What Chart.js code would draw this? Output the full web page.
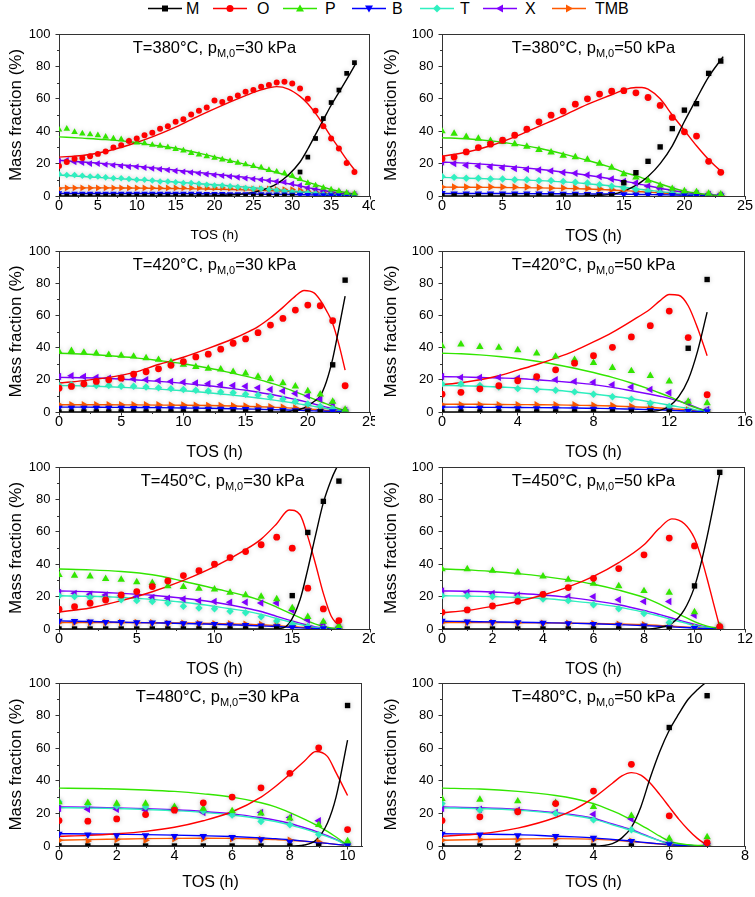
<!DOCTYPE html>
<html>
<head>
<meta charset="utf-8">
<script src="https://cdn.jsdelivr.net/npm/chart.js@4.4.0/dist/chart.umd.min.js"></script>
<style>
html, body { margin: 0; padding: 0; background: #fff; width: 755px; height: 897px; overflow: hidden; }
canvas { position: absolute; }
#legend { position: absolute; left: 0; top: 0; width: 755px; height: 18px; font: 16px "Liberation Sans", Arial, sans-serif; color: #000; }
#legend svg, #legend span { position: absolute; top: 0; }
</style>
</head>
<body>
<div id="legend"></div>
<script>
// ---- data ----
var species = ['M', 'O', 'P', 'B', 'T', 'X', 'TMB'];
var temps = ['380', '380', '420', '420', '450', '450', '480', '480'];
var pressures = ['30', '50', '30', '50', '30', '50', '30', '50'];
var xMax = [40, 25, 25, 16, 20, 12, 10.5, 8];
var xStep = [5, 5, 5, 4, 5, 2, 2, 2];
var yTickStep = 20;

// measured points, time on stream (h)
var tos = [
  [0,1,2,3,4,5,6,7,8,9,10,11,12,13,14,15,16,17,18,19,20,21,22,23,24,25,26,27,28,29,30,31,32,33,34,35,36,37,38],
  [0,1,2,3,4,5,6,7,8,9,10,11,12,13,14,15,16,17,18,19,20,21,22,23],
  [0,1,2,3,4,5,6,7,8,9,10,11,12,13,14,15,16,17,18,19,20,21,22,23],
  [0,1,2,3,4,5,6,7,8,9,10,11,12,13,14],
  [0,1,2,3,4,5,6,7,8,9,10,11,12,13,14,15,16,17,18],
  [0,1,2,3,4,5,6,7,8,9,10,11],
  [0,1,2,3,4,5,6,7,8,9,10],
  [0,1,2,3,4,5,6,7]
];
var obsM = [
  [0,0,0,0,0,0,0,0,0,0,0,0,0,0,0,0,0,0,0,0,0,0,0,0,0,0,0,0,0,0,0,14.8,24,35.5,47.8,57.7,65.4,75.7,82.3],
  [0,0,0,0,0,0,0,0,0,0,0,0,0,0,0,8.2,14.4,21.4,30.3,41.6,53,57,75.7,83.3],
  [0,0,0,0,0,0,0,0,0,0,0,0,0,0,0,0,0,0,0,0,0,0,29.3,81.9],
  [0,0,0,0,0,0,0,0,0,0,0,0,0,39.6,82.3],
  [0,0,0,0,0,0,0,0,0,0,0,0,0,0,0,20.6,59.6,78.8,91.3],
  [0,0,0,0,0,0,0,0,0,0,26.6,96.7],
  [0,0,0,0,0,0,0,0,0,0,86.2],
  [0,0,0,0,0,0,72.7,92.2]
];
var obsO = [
  [18.5,21,23,23.5,24.5,26,27.5,30,31.3,34,35.5,37.5,39,41.5,43,45.8,47.4,50.3,52.6,54.6,59,58,60,62,64.3,65.4,67.4,68.5,70,70.5,69.5,66.4,60,52.6,43,35.5,29.3,20.4,14.8],
  [23,24,27.2,29.9,32,34.4,37.5,41.2,45.8,49.9,52.4,56.7,60,62.9,64.7,65,63.7,60.8,55.9,48.5,39.6,37,21.4,14.6],
  [14.8,15.9,17.5,19,20,21,23.5,25,26.8,29,31.3,34.2,35.9,39,42.7,45.4,49.3,54,58.1,63.3,66.4,66,56.7,16.3],
  [11.1,12.2,14.4,16.3,19.4,22,26.2,30.3,35,40.2,46.6,53.6,62.7,46.2,10.7],
  [12.2,13.8,15.9,17.9,21,23.1,26.2,29.7,33,36,40,44.1,47.8,52,56.7,49.9,25.2,12.4,5.2],
  [10.3,11.8,14.2,17.1,21.4,25.6,31.3,37.3,45.8,56.1,51.3,1.4],
  [15.6,15.2,16.6,19.3,22,26.5,30,35.7,44.6,60.2,10.1],
  [15.6,17.9,21,26,33.7,50.1,18.5,2]
];
var obsP = [
  [41,41.5,39.5,38.5,38,37.5,36.5,35.5,35,34,33,32.5,31.5,31,30,29,28,26.5,25.5,24.5,23.5,22.5,21.5,20.5,19.5,18.5,17.5,16,15,14,12.5,10.5,8,6.5,5,4,3,2,1.5],
  [40,38.5,36.5,35.5,34,33.5,32,30.5,28.5,27,25,24,22.5,20,17.5,13.5,11.5,9.5,6.5,4.5,3,2.5,1.5,1],
  [37.5,38,37,36.5,35.5,35,34.5,33.5,32.5,31,29.5,28,27,26.5,25,24,22,20.5,18,16,13,11,6.5,1.5],
  [41,42,40.5,40,38.5,36.5,34.5,32.5,30.5,27.5,25.5,22.5,19,6.5,5.5],
  [33.5,33,32.5,31,30.5,29,28.5,26.5,26,25,24.5,22.5,21,20,18.5,13,7.5,4.5,2],
  [37,37,36,35,32.5,30.5,28,26.5,23.5,22.5,10.5,2],
  [27,26.5,26,26,24,23,21.5,20,17,13,3],
  [29,28.5,27.5,26.5,24,18.5,4.5,5.5]
];
var obsB = [
  [1.8,1.5,1.5,1.5,1.5,1.5,1.5,1.5,1.5,1.5,1.5,1.5,1.5,1.5,1.5,1.4,1.4,1.4,1.4,1.3,1.3,1.3,1.2,1.2,1.2,1.1,1.1,1,1,1,0.9,0.8,0.7,0.6,0.5,0.5,0.4,0.3,0.3],
  [1.8,1.5,1.5,1.5,1.5,1.5,1.5,1.5,1.4,1.4,1.3,1.3,1.2,1.2,1.1,1,0.9,0.8,0.6,0.5,0.4,0.3,0.2,0.2],
  [2.5,2.5,2.5,2.5,2.5,2.5,2.4,2.4,2.3,2.3,2.2,2.1,2,1.9,1.8,1.7,1.5,1.4,1.2,1,0.8,0.6,0.4,0.2],
  [2.5,2.5,2.5,2.5,2.3,2.3,2.2,2.1,2,1.8,1.5,1.2,0.9,0.5,0.3],
  [5,4.8,4.5,4.3,4.2,4,3.9,3.7,3.5,3.3,3,2.7,2.4,2,1.6,1,0.5,0.3,0.2],
  [5,4.5,4.2,4,3.7,3.5,3,2.5,2,1,0.5,0.2],
  [7.5,7,6.5,6.5,6,6,5.5,4,2.5,1,0.3],
  [7.5,7,6.5,6,5,3,1,0.3]
];
var obsT = [
  [13.5,13,13,12.5,12,12,11.5,11,11,10.5,10,10,9.5,9,9,8.5,8,8,7.5,7,6.5,6.5,6,5.5,5,4.5,4.5,4,3.5,3,2.5,2,2,1.5,1,1,0.5,0.5,0.5],
  [12,11.5,11,11,10.5,10.5,10,10,9.5,9.5,9,8.5,8,7,6,5,4,3,2,1.5,1,0.5,0.3,0.2],
  [16.5,17,17,16.5,16.5,16,16,15.5,15,14.5,14,13.5,13,12.5,12,11,10.5,9.5,8,6.5,5,3.5,2,0.5],
  [17.5,17.5,16.5,15.5,14.5,14,13.5,12.5,11,9.5,8,5.5,3.5,1,0.5],
  [20.5,20,19.5,18.5,18,17.5,17,16,14,13,12.5,11,10,7.5,5,3,1.5,0.5,0.2],
  [20.5,20.5,20,19.5,18.5,17.5,15,12.5,9.5,4,1,0.3],
  [27,25.5,24.5,24,23.5,21.5,19,15,13,7,0.5],
  [26,22,21,20,16,10,1.5,0.5]
];
var obsX = [
  [21.5,22,21,20.5,20,20,19.5,19,18.5,18,18,17.5,17,16.5,16,15.5,15,14.5,14,13.5,13,12.5,12,11.5,11,10.5,10,9.5,9,8.5,7.5,6.5,5,4,3,2.5,2,1.5,1],
  [21,20,19,18.5,18,17.5,17,16.5,16,15.5,14.5,14,13,12,10.5,9,8,6,4.5,3.5,2,1.5,1,0.5],
  [22,22.5,22,21.5,21,21,20.5,20,19.5,19,18.5,18,17.5,17,16.5,16,15,14,13,11.5,10,8,5.5,1],
  [22,21.5,21.5,21.5,21,21,20,19,18.5,17,15.5,14,12,6,1.5],
  [22.5,22,21.5,21,20.5,20,19.5,19,18.5,17.5,17,16.5,16.5,16,16,11.5,5.5,3,1],
  [23.5,22.5,22,21,21.5,20,20,18,17,17,8.5,1],
  [23,22.5,22.5,22,22,20.5,20,20.5,17.5,15.5,1],
  [23,22.5,22,20.5,19.5,16.5,2,1]
];
var obsTMB = [
  [4.5,5,5,5,5,5,5,5,5,5,5,5,5,5,5,5,5,5,5,5,5,5,4.8,4.8,4.5,4.5,4.5,4.5,4.2,4,4,3.5,3,2.5,2,1.5,1.2,1,0.8],
  [5.5,5.5,5.5,5.5,5.5,5.5,5.5,5.5,5.2,5,5,5,4.8,4.5,4,3.5,3,2.5,2,1.5,1,0.8,0.5,0.3],
  [4.5,4.5,4.5,4.5,4.5,4.5,4.5,4.5,4.5,4.4,4.3,4.2,4.1,4,3.9,3.7,3.5,3.2,3,2.5,2,1.5,1,0.5],
  [4.5,4.5,4.5,4.5,4.5,4.5,4.5,4.5,4.2,4,3.5,3,2.2,1.2,0.5],
  [4,4,4,4,4,4,3.8,3.6,3.5,3.4,3.3,3.2,3,2.8,2.5,2,1,0.5,0.3],
  [4,4,4,3.8,3.6,3.5,3.3,3,2.7,2,1,0.2],
  [3.5,3,4,3.5,4.5,4.5,4.5,4,3.5,2.5,0.5],
  [3.5,4,4,4.5,4,3,1,0.3]
];

// model curves, read at these times (h)
var fitTos = [
  [0,3,6,9,12,15,18,21,24,26,28,29.5,31,32,33,34,35,36,37,38.2],
  [0,2,4,6,8,10,12,14,15,16,16.5,17,18,19,20,21,22,23,23.2],
  [0,2,4,6,8,10,12,14,15,16,17,18,19,19.7,20.5,21,21.5,22,22.5,23],
  [0,1,2,3,4,5,6,7,8,9,10,11,11.5,12,12.5,13,13.5,14],
  [0,2,4,6,8,10,12,13,14,14.8,15.5,16,16.5,17,17.5,17.8,18],
  [0,1,2,3,4,5,6,7,8,8.6,9.1,9.6,10,10.25,10.5,10.75,11],
  [0,1,2,3,4,5,6,7,7.5,8,8.5,8.9,9.3,9.6,10],
  [0,1,2,3,3.5,4,4.5,4.75,5,5.25,5.5,5.75,6,6.25,6.5,6.75,7]
];
var fitM = [
  [0,0,0,0,0,0,0,0.4,1.5,3.5,7.5,13,21,29,38,47,56,64,72,82],
  [0,0,0,0,0,0,0.2,1,3,6.5,9,12,20,31,46,60,73.5,84,86],
  [0,0,0,0,0,0,0,0,0,0,0,0,1,2.5,6.5,10,19,33,52,72],
  [0,0,0,0,0,0,0,0,0,0,0,0.3,1,3.5,9.5,20,38,62],
  [0,0,0,0,0,0,0,0,0.2,3.5,18,37,58,78,92,98.5,102],
  [0,0,0,0,0,0,0,0,0,0.8,3.5,12,26,40,57,76,96],
  [0,0,0,0,0,0,0,0,0,0,0.6,3.5,14,30,65],
  [0,0,0,0,0,0,1.5,5,11.5,24,42,58,71,81,90,96,101]
];
var fitO = [
  [24,25,27.5,31.5,36.5,42.5,49.5,56,62,65.5,67.5,66,61.5,57,51,44,36.5,29.5,22.5,15],
  [24.5,27,31,36.5,43,49.5,56.5,62.5,65.5,67,67,66,60,50,40.5,31,22.5,15.5,14.5],
  [18,19.5,21.5,24.5,29.5,34,39.5,45.5,49,53,58.5,65,72,75.5,74,69.5,63,55,42,26],
  [17,18.2,20,22.5,26,29.5,33.5,38,43.5,49.5,56.5,64,69,73,72.5,66,52,35],
  [10.5,13,17.5,23,30,38.5,49,55.5,65,73.5,70.5,57,40,22,8,4,2.5],
  [10,11.5,14,17,21,26,32.5,41,52,62,68,65,56,45,31,16,1],
  [6,6.5,7.5,9,11.5,15.5,21,30,36.5,44,52,58,55,45,31],
  [6,7.5,11,17.5,22.5,29.5,38.5,43,45,43.5,38.5,31.5,24,16.5,10,4.5,0.5]
];
var fitP = [
  [36.5,35.7,34.8,33.5,31.5,29.5,26.5,23,19.5,17,14.5,12.5,10,8.5,7,5.5,4,3,2,1],
  [36,35.3,34,32,29.5,26,22,17.5,14.5,12.5,11.2,10,7.5,5,3,1.7,0.8,0.3,0.3],
  [36.5,36,35,33.8,32,30,27.3,24,22.3,20.3,18,15.5,12.5,10.5,8,6.5,5,3.5,2,0.8],
  [36.5,36.2,35.5,34.5,33.2,31.5,29.5,27.2,24.5,21.5,18,14,11.8,9.5,7,4.5,2.3,0.5],
  [37,36.5,35.5,33.5,29.5,25,20.5,17.5,13.5,10,7,4.8,3,1.6,0.7,0.4,0.3],
  [37,36.5,35.5,34.2,32.5,30.3,27.6,24,19.5,15.5,11.5,7.5,4.5,3,1.8,0.9,0.3],
  [35.5,35.3,35,34.4,33.5,32,30,26.5,24,20.5,16.5,13,9,5.5,0.5],
  [35.5,35,33.5,31,29,26,21.5,19,16,12.8,9.5,6,3,1.5,0.8,0.4,0.3]
];
var fitB = [
  [1.5,1.5,1.5,1.5,1.5,1.5,1.4,1.3,1.2,1.1,1,0.9,0.8,0.7,0.6,0.5,0.4,0.35,0.3,0.2],
  [1.5,1.5,1.5,1.5,1.4,1.4,1.3,1.2,1.1,1,0.9,0.85,0.8,0.65,0.5,0.4,0.3,0.2,0.1],
  [3,3,2.9,2.8,2.7,2.5,2.3,2,1.9,1.7,1.5,1.3,1.1,0.9,0.7,0.6,0.5,0.4,0.3,0.2],
  [3,3,2.9,2.9,2.8,2.7,2.6,2.5,2.3,2.1,1.8,1.5,1.3,1.1,0.8,0.6,0.4,0.2],
  [5,4.6,4.2,3.8,3.4,2.9,2.3,1.9,1.5,1.1,0.7,0.5,0.3,0.2,0.1,0.1,0.1],
  [4.8,4.6,4.4,4.2,3.9,3.6,3.2,2.7,2.1,1.7,1.3,0.9,0.6,0.4,0.3,0.2,0.1],
  [7.5,7.4,7.2,7,6.7,6.3,5.8,5,4.5,3.8,3,2.3,1.6,1,0.3],
  [7.5,7.3,7,6,5.6,5,4,3.5,3,2.4,1.8,1.3,0.8,0.5,0.3,0.2,0.1]
];
var fitT = [
  [13,12,11.2,10.3,9.5,8.6,7.6,6.6,5.5,4.7,3.9,3.3,2.6,2.2,1.8,1.4,1.1,0.8,0.6,0.4],
  [11.5,11,10.6,10.1,9.5,8.7,7.6,6.2,5.4,4.5,4,3.6,2.7,1.9,1.2,0.7,0.4,0.2,0.2],
  [16.5,16.2,15.7,15,14.2,13.2,12,10.5,9.6,8.7,7.7,6.6,5.4,4.5,3.5,2.8,2.2,1.5,0.9,0.4],
  [16.5,16.3,16,15.5,15,14.3,13.5,12.4,11.2,9.8,8.2,6.3,5.3,4.3,3.2,2.2,1.2,0.3],
  [20.5,20.2,19.5,18.3,16.5,14,11,9,6.5,4.5,2.8,1.8,1,0.5,0.3,0.2,0.2],
  [20.5,20.3,20,19.5,18.8,17.5,15.8,13.5,10.3,8,5.8,3.8,2.2,1.5,0.9,0.5,0.2],
  [23.5,23.3,23,22.4,21.7,20.6,19,16.6,15,13,10.5,8.3,5.8,3.7,0.4],
  [23.5,23,22,20,18.5,16.5,13,11.3,9.5,7.3,5.2,3.1,1.4,0.7,0.4,0.2,0.2]
];
var fitX = [
  [22,21,20,18.8,17.5,16,14.5,13,11.5,10.2,8.8,7.6,6.2,5.2,4.3,3.4,2.6,2,1.4,0.8],
  [21,20.3,19.3,18,16.5,14.8,12.8,10.5,9.2,7.8,7,6.3,4.8,3.4,2.2,1.3,0.7,0.3,0.3],
  [21.5,21.3,20.8,20,19,17.8,16.3,14.5,13.5,12.3,11,9.5,7.8,6.6,5,4,3,2,1.2,0.5],
  [22,21.8,21.4,21.1,20.8,20,19.2,18.2,17,15.3,13.2,11,9.8,8.5,6.8,4.8,2.5,0.4],
  [23.5,23,22,20.8,19,16.5,13,10.8,7.8,5.5,3.6,2.3,1.3,0.6,0.3,0.2,0.2],
  [23.5,23.3,22.8,22,21,19.5,17.5,15,11.5,9,6.8,4.5,2.8,1.9,1.2,0.6,0.3],
  [24,23.8,23.4,22.9,22.2,21.2,19.7,17.3,15.8,13.8,11.2,9,6.3,4,0.5],
  [24,23.5,22.5,20.5,19,17,13.5,11.8,10,7.8,5.5,3.3,1.5,0.8,0.4,0.2,0.2]
];
var fitTMB = [
  [5,5,5,4.9,4.8,4.6,4.4,4.1,3.8,3.5,3.2,2.9,2.5,2.2,1.9,1.6,1.3,1,0.7,0.5],
  [5.5,5.4,5.3,5.2,5,4.7,4.3,3.7,3.3,2.9,2.6,2.4,1.9,1.4,1,0.6,0.4,0.2,0.2],
  [4.5,4.5,4.5,4.4,4.3,4.2,4,3.7,3.5,3.3,3,2.7,2.3,2,1.6,1.3,1,0.7,0.5,0.3],
  [4.8,4.8,4.8,4.7,4.6,4.5,4.4,4.2,4,3.7,3.3,2.8,2.5,2.1,1.7,1.2,0.7,0.3],
  [4,4,4,3.9,3.7,3.4,3,2.6,2.1,1.6,1.1,0.8,0.5,0.3,0.2,0.2,0.1],
  [4,4,4,3.9,3.8,3.6,3.4,3.1,2.6,2.2,1.7,1.2,0.8,0.6,0.4,0.2,0.1],
  [3.5,3.9,4.2,4.5,4.7,4.8,4.7,4.3,4,3.5,2.9,2.3,1.6,1,0.3],
  [3.5,4,4.3,4.5,4.4,4.2,3.6,3.2,2.7,2.2,1.7,1.2,0.8,0.5,0.3,0.2,0.1]
];

// ---- style / layout ----
var obs = [obsM, obsO, obsP, obsB, obsT, obsX, obsTMB];
var fit = [fitM, fitO, fitP, fitB, fitT, fitX, fitTMB];
var colors = ['#000000', '#ff0000', '#33e600', '#0000ff', '#2ff0c0', '#8000ff', '#ff5a00'];
var shapes = ['rect', 'circle', 'triangle', 'triangle', 'rectRot', 'triangle', 'triangle'];
var rots = [0, 0, 0, 180, 0, 270, 90];
var radii = [3.8, 3.4, 4.3, 4.3, 3.7, 4.3, 4.3];
var FONT = '"Liberation Sans", Arial, Helvetica, sans-serif';
var AXIS = '#333333';

Chart.defaults.font.family = FONT;
Chart.defaults.color = '#000';

var rowTop = [34, 251, 467, 683];
var rowBottom = [196, 412, 629, 846];
var colLeft = [0, 375];
var colWidth = [375, 380];
var plotLeft = [59, 442];
var plotRight = [[370, 745], [370, 745], [370, 745], [362, 745]];
var titleShift = [0, 0, 0, 0, 8, 0, 7, 0];

// legend
var legLine = [148, 213, 283, 352, 420, 483, 552];
var legText = [186, 257, 325, 392, 460, 525, 595];
function markerSvg(k) {
  var c = colors[k];
  switch (k) {
    case 0: return '<rect x="14" y="5.5" width="6" height="6" fill="' + c + '"/>';
    case 1: return '<circle cx="17" cy="8.5" r="3.5" fill="' + c + '"/>';
    case 2: return '<polygon points="17,4.5 21,11.5 13,11.5" fill="' + c + '"/>';
    case 3: return '<polygon points="13,5.5 21,5.5 17,12.5" fill="' + c + '"/>';
    case 4: return '<polygon points="17,4.5 21,8.5 17,12.5 13,8.5" fill="' + c + '"/>';
    case 5: return '<polygon points="13,8.5 20,4.5 20,12.5" fill="' + c + '"/>';
    default: return '<polygon points="14,4.5 21,8.5 14,12.5" fill="' + c + '"/>';
  }
}
var legend = document.getElementById('legend');
species.forEach(function (s, k) {
  legend.insertAdjacentHTML('beforeend',
    '<svg style="left:' + legLine[k] + 'px" width="34" height="17">' +
    '<line x1="0" y1="8.5" x2="34" y2="8.5" stroke="' + colors[k] + '" stroke-width="1.5"/>' +
    markerSvg(k) + '</svg>' +
    '<span style="left:' + legText[k] + 'px">' + s + '</span>');
});

// frame, minor ticks, panel heading
var panelDeco = {
  id: 'panelDeco',
  beforeDatasetDraw: function (chart, args) {
    if (chart.data.datasets[args.index].isObs) {
      chart.ctx.shadowColor = 'rgba(0,0,0,0.22)';
      chart.ctx.shadowBlur = 5;
    }
  },
  afterDatasetDraw: function (chart) {
    chart.ctx.shadowColor = 'rgba(0,0,0,0)';
    chart.ctx.shadowBlur = 0;
  },
  afterDraw: function (chart, args, opts) {
    var ctx = chart.ctx, a = chart.chartArea, sx = chart.scales.x, sy = chart.scales.y;
    ctx.save();
    ctx.strokeStyle = AXIS;
    ctx.lineWidth = 1;
    ctx.beginPath();
    ctx.moveTo(a.left, a.top + 0.5); ctx.lineTo(a.right, a.top + 0.5);
    ctx.moveTo(a.right - 0.5, a.top); ctx.lineTo(a.right - 0.5, a.bottom);
    var xt = sx.ticks.map(function (t) { return t.value; });
    var dx = xt[1] - xt[0];
    xt.forEach(function (v) {
      var m = v + dx / 2;
      if (m > sx.max) return;
      var px = Math.round(sx.getPixelForValue(m)) + 0.5;
      ctx.moveTo(px, a.bottom); ctx.lineTo(px, a.bottom + 2);
    });
    var yt = sy.ticks.map(function (t) { return t.value; });
    var dy = yt[1] - yt[0];
    yt.forEach(function (v) {
      var m = v + dy / 2;
      if (m > sy.max) return;
      var py = Math.round(sy.getPixelForValue(m)) + 0.5;
      ctx.moveTo(a.left, py); ctx.lineTo(a.left - 2, py);
    });
    ctx.stroke();

    var main = 'T=' + opts.temp + '\u00B0C, p';
    var sub = 'M,0';
    var tail = '=' + opts.pres + ' kPa';
    var big = '16.5px ' + FONT, small = '11px ' + FONT;
    ctx.font = big; var w1 = ctx.measureText(main).width, w3 = ctx.measureText(tail).width;
    ctx.font = small; var w2 = ctx.measureText(sub).width;
    var x0 = (a.left + a.right) / 2 - (w1 + w2 + w3) / 2 + opts.shift;
    var base = a.top + 19;
    ctx.fillStyle = '#000';
    ctx.textBaseline = 'alphabetic';
    ctx.textAlign = 'left';
    ctx.font = big; ctx.fillText(main, x0, base);
    ctx.font = small; ctx.fillText(sub, x0 + w1, base + 4);
    ctx.font = big; ctx.fillText(tail, x0 + w1 + w2, base);
    ctx.restore();
  }
};

function buildPanel(p) {
  var row = Math.floor(p / 2), col = p % 2;
  var top = rowTop[row] - 20;
  var xh = row === 3 ? 50 : 54;
  var height = 20 + (rowBottom[row] - rowTop[row]) + xh;
  var width = colWidth[col];
  var yw = plotLeft[col] - colLeft[col];
  var rp = colLeft[col] + width - plotRight[row][col];
  var scale = p === 0 ? 0.88 : 1;

  var cv = document.createElement('canvas');
  cv.width = width; cv.height = height;
  cv.style.left = colLeft[col] + 'px'; cv.style.top = top + 'px';
  cv.style.width = width + 'px'; cv.style.height = height + 'px';
  document.body.appendChild(cv);

  var datasets = [];
  species.forEach(function (s, k) {
    datasets.push({
      label: s, isObs: true, order: 1,
      data: obs[k][p].map(function (v, i) { return { x: tos[p][i], y: v }; }),
      showLine: false,
      pointStyle: shapes[k], rotation: rots[k],
      pointRadius: radii[k] * scale, pointHoverRadius: radii[k] * scale,
      backgroundColor: colors[k], borderColor: colors[k], pointBorderWidth: 0
    });
  });
  species.forEach(function (s, k) {
    datasets.push({
      label: s + ' model', order: 2,
      data: fit[k][p].map(function (v, i) { return { x: fitTos[p][i], y: v }; }),
      showLine: true, pointRadius: 0, pointHoverRadius: 0,
      borderColor: colors[k], backgroundColor: colors[k], borderWidth: 1.4,
      cubicInterpolationMode: 'monotone'
    });
  });

  var grid = { display: true, drawOnChartArea: false, drawTicks: true, tickLength: 3.5, color: AXIS, lineWidth: 1 };
  var border = { display: true, color: AXIS, width: 1 };

  new Chart(cv, {
    type: 'scatter',
    data: { datasets: datasets },
    plugins: [panelDeco],
    options: {
      responsive: false, animation: false, devicePixelRatio: 1,
      layout: { padding: { top: 20, right: rp, bottom: 0, left: 0 } },
      plugins: {
        legend: { display: false }, tooltip: { enabled: false },
        panelDeco: { temp: temps[p], pres: pressures[p], shift: titleShift[p] }
      },
      scales: {
        x: {
          type: 'linear', min: 0, max: xMax[p],
          grid: grid, border: border,
          ticks: { stepSize: xStep[p], includeBounds: false, maxRotation: 0, autoSkip: false, padding: -1,
                   color: '#000', font: { size: 14.5, lineHeight: 1 } },
          title: { display: true, text: 'TOS (h)', color: '#000',
                   font: { size: p === 0 ? 13.5 : 16 }, padding: { top: 0, bottom: p === 0 ? 6.9 : 3.4 } },
          afterFit: function (ax) { ax.height = xh; ax.paddingLeft = 0; ax.paddingRight = 0; }
        },
        y: {
          type: 'linear', min: 0, max: 100,
          grid: grid, border: border,
          ticks: { stepSize: yTickStep, padding: 5, color: '#000', font: { size: 13 } },
          title: { display: true, text: 'Mass fraction (%)', color: '#000', font: { size: 17 }, padding: { top: 5.8, bottom: 0 } },
          afterFit: function (ax) { ax.width = yw; ax.paddingTop = 0; ax.paddingBottom = 0; }
        }
      }
    }
  });
}

for (var p = 0; p < 8; p++) buildPanel(p);
</script>
</body>
</html>
